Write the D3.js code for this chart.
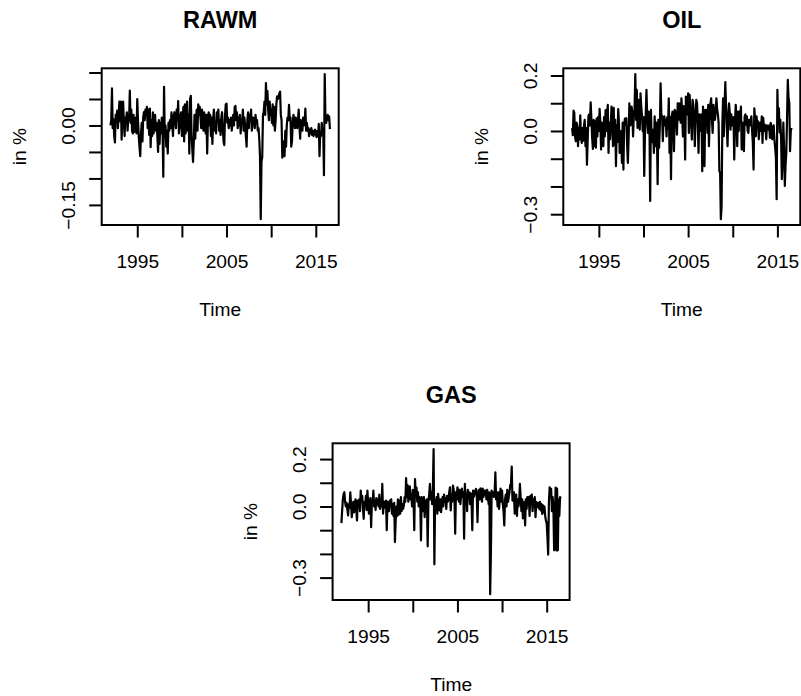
<!DOCTYPE html>
<html>
<head>
<meta charset="utf-8">
<script src="https://cdn.jsdelivr.net/npm/d3@7"></script>
<style>
  body { margin: 0; background: #fff; }
  text { font-family: "Liberation Sans", Arial, Helvetica, sans-serif; fill: #000; }
</style>
</head>
<body>
<svg id="chart" width="801" height="696"></svg>
<script>
// Monthly returns, January 1992 to August 2016 (one row per year).
const startYear = 1992;

const rawm = [
  0.000, 0.010, 0.070, -0.005, 0.012, -0.020, -0.032, 0.020, 0.010, 0.028, -0.005, 0.020,
  0.045, 0.008, 0.045, -0.027, 0.030, 0.045, 0.005, -0.020, 0.015, 0.010, 0.025, -0.010,
  0.020, 0.010, 0.066, 0.005, 0.030, -0.010, -0.015, 0.020, -0.012, 0.005, 0.015, -0.015,
  0.050, 0.010, -0.020, -0.040, -0.058, -0.015, 0.005, -0.030, 0.015, 0.025, 0.010, 0.030,
  0.020, 0.035, -0.005, 0.030, -0.018, 0.032, -0.041, 0.010, -0.020, 0.025, -0.015, 0.015,
  0.020, -0.010, 0.005, -0.020, -0.050, 0.010, -0.035, 0.005, -0.015, 0.015, -0.005, -0.097,
  0.073, -0.020, 0.000, -0.040, -0.010, -0.053, 0.005, -0.010, 0.010, -0.005, 0.025, 0.010,
  -0.020, 0.015, 0.025, 0.010, -0.005, 0.030, 0.010, 0.046, -0.015, 0.020, -0.005, 0.025,
  -0.020, 0.010, 0.035, -0.030, 0.040, -0.015, 0.010, 0.045, -0.010, 0.020, -0.053, 0.050,
  0.056, -0.020, -0.045, -0.069, -0.030, 0.020, -0.025, 0.015, 0.030, -0.010, 0.040, 0.020,
  0.035, 0.015, -0.005, 0.030, 0.010, -0.010, 0.025, 0.005, -0.015, 0.020, -0.053, 0.010,
  0.025, 0.000, 0.020, -0.020, 0.015, -0.035, 0.010, 0.030, -0.010, 0.005, -0.015, 0.025,
  0.020, 0.030, -0.010, 0.010, -0.018, 0.015, 0.025, -0.005, -0.030, -0.037, 0.020, 0.040,
  0.041, 0.005, 0.015, -0.005, 0.010, 0.000, 0.015, -0.010, 0.005, 0.020, 0.000, 0.035,
  0.037, 0.010, 0.025, -0.005, 0.015, 0.000, 0.020, -0.015, 0.010, 0.005, 0.030, -0.010,
  0.015, 0.000, -0.020, -0.040, 0.010, 0.025, -0.005, 0.020, 0.010, 0.030, -0.010, 0.005,
  0.015, 0.010, -0.005, 0.020, 0.005, 0.010, -0.010, -0.005, -0.025, -0.058, -0.177, -0.068,
  -0.060, 0.020, 0.025, 0.045, 0.020, 0.080, 0.040, 0.065, 0.030, 0.010, 0.045, 0.020,
  0.030, 0.005, 0.040, 0.000, 0.035, -0.010, 0.010, 0.040, 0.055, 0.050, 0.055, 0.060,
  0.064, 0.020, 0.010, -0.061, -0.030, -0.045, -0.058, -0.010, -0.040, 0.000, 0.015, 0.010,
  0.039, 0.010, 0.015, -0.040, -0.030, 0.005, 0.020, 0.010, -0.005, 0.015, 0.005, -0.005,
  0.010, 0.030, 0.000, -0.025, 0.010, 0.005, -0.010, 0.015, 0.000, 0.005, 0.032, -0.010,
  0.005, -0.010, -0.005, -0.020, -0.008, -0.015, -0.005, -0.018, -0.010, -0.020, -0.012, -0.008,
  -0.015, -0.022, -0.010, -0.020, 0.003, -0.058, -0.012, -0.020, 0.005, -0.015, -0.010, -0.094,
  0.097, 0.010, 0.005, 0.015, 0.020, 0.010, 0.017, -0.007
];

const oil = [
  0.010, -0.015, 0.073, 0.065, -0.020, -0.037, 0.030, 0.020, -0.055, 0.010, -0.030, 0.056,
  -0.020, -0.043, 0.010, -0.035, 0.020, 0.040, -0.055, 0.010, -0.122, -0.030, 0.055, 0.060,
  0.020, 0.103, 0.040, -0.025, -0.065, 0.040, -0.055, 0.035, -0.060, 0.045, -0.020, 0.050,
  0.000, 0.080, 0.030, -0.067, 0.030, 0.000, -0.055, 0.050, -0.020, 0.075, 0.000, 0.060,
  0.094, -0.079, 0.030, -0.030, 0.020, 0.088, 0.030, -0.055, 0.083, -0.050, 0.040, -0.127,
  0.020, -0.040, 0.079, 0.030, -0.079, 0.000, -0.020, -0.115, 0.030, -0.139, 0.015, 0.045,
  0.040, 0.046, -0.050, -0.115, -0.030, 0.100, 0.020, 0.023, 0.088, 0.065, -0.020, 0.060,
  0.080, 0.205, 0.040, 0.148, 0.011, 0.112, 0.076, 0.005, 0.136, 0.088, 0.052, -0.001,
  0.050, -0.162, -0.007, 0.060, 0.148, 0.052, -0.007, 0.070, 0.020, -0.252, 0.076, -0.040,
  0.005, -0.007, -0.079, 0.053, -0.055, 0.030, 0.010, -0.192, 0.040, -0.060, 0.020, 0.172,
  0.060, 0.053, -0.037, 0.047, 0.053, 0.020, 0.041, -0.020, 0.050, 0.010, 0.118, -0.079,
  0.050, -0.174, 0.053, 0.070, 0.023, -0.073, 0.076, 0.070, 0.053, -0.013, 0.100, 0.040,
  0.100, 0.088, 0.030, 0.118, 0.060, -0.020, 0.090, 0.040, -0.103, 0.124, 0.112, 0.060,
  0.136, -0.007, 0.130, 0.076, 0.030, -0.031, 0.112, 0.094, 0.050, -0.055, 0.040, 0.112,
  0.100, 0.029, -0.079, 0.060, 0.030, 0.000, 0.060, -0.145, 0.088, 0.000, -0.127, 0.076,
  0.070, 0.076, -0.007, 0.094, -0.055, 0.050, 0.100, 0.118, 0.040, -0.007, 0.094, 0.060,
  0.040, 0.070, 0.118, 0.080, 0.060, 0.030, -0.145, -0.150, -0.318, -0.270, 0.023, 0.118,
  -0.019, 0.090, 0.176, 0.088, 0.017, -0.055, 0.053, 0.100, 0.065, 0.005, 0.060, 0.020,
  0.030, 0.050, -0.103, 0.023, 0.094, 0.053, -0.055, 0.070, 0.000, 0.070, 0.040, 0.088,
  -0.067, 0.030, -0.007, -0.073, 0.053, 0.060, 0.023, 0.053, 0.000, -0.007, 0.040, 0.020,
  0.040, 0.053, 0.000, -0.043, -0.139, 0.082, 0.040, -0.019, 0.053, 0.020, 0.035, -0.030,
  0.010, 0.030, 0.000, 0.053, -0.043, 0.047, 0.000, 0.023, 0.017, -0.030, 0.020, 0.010,
  0.005, 0.020, -0.025, 0.029, 0.017, -0.030, 0.010, 0.020, -0.031, -0.060, -0.095, -0.246,
  0.148, 0.030, 0.082, -0.005, 0.040, -0.030, -0.174, -0.100, 0.030, -0.060, -0.198, -0.120,
  -0.080, 0.050, 0.184, 0.118, 0.100, -0.073, 0.000, 0.011
];

const gas = [
  -0.070, -0.020, 0.030, 0.053, 0.060, 0.020, 0.000, 0.015, -0.010, -0.038, 0.010, -0.005,
  0.060, 0.010, -0.045, 0.000, 0.020, -0.025, 0.010, 0.030, -0.010, -0.059, 0.025, 0.015,
  0.030, -0.020, 0.067, 0.025, 0.045, -0.010, -0.052, 0.020, 0.010, 0.045, -0.015, 0.067,
  0.020, -0.030, 0.010, 0.035, -0.087, 0.015, 0.020, 0.067, 0.000, 0.025, -0.015, 0.035,
  0.010, 0.030, 0.000, 0.050, -0.010, 0.020, 0.000, 0.095, -0.030, 0.010, 0.020, -0.005,
  0.025, -0.100, 0.020, 0.010, -0.020, 0.025, 0.000, 0.030, -0.030, 0.010, -0.040, 0.015,
  -0.150, -0.060, 0.000, -0.040, 0.030, -0.035, 0.025, -0.030, 0.040, -0.020, 0.010, -0.010,
  0.005, 0.040, 0.020, 0.120, 0.040, 0.090, 0.020, 0.060, 0.085, 0.030, 0.050, 0.000,
  0.070, 0.030, -0.100, 0.116, 0.050, 0.080, 0.020, 0.060, 0.000, 0.040, 0.020, -0.143,
  0.040, 0.020, -0.020, 0.040, -0.045, 0.025, 0.000, 0.030, -0.168, 0.020, 0.050, 0.095,
  0.030, 0.060, 0.010, 0.080, 0.242, -0.244, 0.025, 0.010, 0.040, -0.030, 0.053, 0.020,
  -0.017, 0.030, -0.024, 0.010, 0.040, 0.000, 0.050, 0.020, 0.035, -0.010, 0.045, 0.020,
  0.030, 0.060, 0.081, -0.017, 0.050, 0.020, 0.088, 0.070, 0.040, -0.115, 0.060, 0.030,
  0.081, 0.067, 0.020, 0.070, 0.010, 0.050, 0.075, 0.040, 0.060, -0.136, 0.095, 0.030,
  0.053, -0.020, 0.070, 0.040, 0.060, 0.010, 0.055, 0.020, -0.100, 0.067, 0.040, 0.053,
  0.067, 0.074, 0.045, -0.066, 0.060, 0.070, 0.030, 0.076, 0.050, 0.020, 0.075, 0.040,
  0.067, 0.050, 0.067, 0.030, 0.070, 0.040, 0.010, 0.060, -0.370, -0.200, 0.067, 0.060,
  0.060, 0.040, 0.055, 0.144, 0.030, 0.060, 0.000, 0.060, -0.010, 0.040, 0.075, 0.020,
  0.067, 0.010, -0.020, -0.080, 0.030, 0.050, 0.000, 0.070, 0.020, 0.040, 0.060, 0.090,
  0.095, 0.168, 0.025, 0.040, 0.060, -0.030, 0.020, 0.050, -0.040, 0.030, 0.000, 0.020,
  0.095, 0.040, -0.020, 0.030, -0.050, 0.020, 0.000, -0.080, 0.030, -0.010, 0.040, 0.010,
  0.040, -0.040, 0.045, 0.010, 0.050, -0.020, 0.030, 0.000, 0.040, -0.045, 0.020, 0.010,
  -0.003, 0.015, -0.010, 0.020, -0.017, 0.010, -0.031, 0.005, -0.025, 0.000, -0.040, -0.060,
  -0.070, -0.130, -0.203, 0.020, 0.081, 0.060, 0.074, -0.020, 0.040, 0.000, -0.185, -0.050,
  0.080, -0.185, 0.075, -0.185, 0.030, -0.040, 0.040, 0.035
];

// Axis ticks and the subset of ticks that carry a label
const xTicks = [1995, 2000, 2005, 2010, 2015];
const xTickLabels = [1995, 2005, 2015];
const rawmTicks = [-0.15, -0.10, -0.05, 0.00, 0.05, 0.10];
const rawmTickLabels = [0.00, -0.15];
const oilTicks = [-0.3, -0.2, -0.1, 0.0, 0.1, 0.2];
const oilTickLabels = [0.2, 0.0, -0.3];
const gasTicks = [-0.3, -0.2, -0.1, 0.0, 0.1, 0.2];
const gasTickLabels = [0.2, 0.0, -0.3];

const panels = [
  { title: "RAWM", values: rawm, ticks: rawmTicks, labels: rawmTickLabels, fmt: ".2f", left: 101.7, top: 68.3 },
  { title: "OIL",  values: oil,  ticks: oilTicks,  labels: oilTickLabels,  fmt: ".1f", left: 563.3, top: 68.3 },
  { title: "GAS",  values: gas,  ticks: gasTicks,  labels: gasTickLabels,  fmt: ".1f", left: 332.6, top: 443.3 }
];

const plotW = 237, plotH = 156.7;
const tickLen = 12.5;
const lineW = 2.2, frameW = 2;
const axisFont = 19.2, titleFont = 23.5;

const svg = d3.select("#chart");

// pad a range by 4% on each side
function padded([a, b]) {
  const r = b - a;
  return [a - 0.04 * r, b + 0.04 * r];
}

panels.forEach(p => {
  const series = p.values.map((v, i) => ({ t: startYear + i / 12, v }));
  const x = d3.scaleLinear().domain(padded(d3.extent(series, d => d.t))).range([0, plotW]);
  const y = d3.scaleLinear().domain(padded(d3.extent(series, d => d.v))).range([plotH, 0]);

  const g = svg.append("g").attr("transform", `translate(${p.left},${p.top})`);

  // series line
  g.append("path")
    .datum(series)
    .attr("fill", "none")
    .attr("stroke", "#000")
    .attr("stroke-width", lineW)
    .attr("stroke-linejoin", "round")
    .attr("d", d3.line().x(d => x(d.t)).y(d => y(d.v)));

  // frame
  g.append("rect")
    .attr("x", 0).attr("y", 0).attr("width", plotW).attr("height", plotH)
    .attr("fill", "none").attr("stroke", "#000").attr("stroke-width", frameW);

  // bottom axis
  const xa = g.append("g").attr("transform", `translate(0,${plotH})`)
    .call(d3.axisBottom(x).tickValues(xTicks).tickSize(tickLen)
      .tickFormat(d => xTickLabels.includes(d) ? String(d) : ""));
  xa.select(".domain").remove();
  xa.selectAll(".tick line").attr("stroke", "#000").attr("stroke-width", frameW);
  xa.selectAll(".tick text")
    .attr("y", 43).attr("dy", null)
    .attr("font-size", axisFont).attr("fill", "#000")
    .style("font-family", '"Liberation Sans", Arial, Helvetica, sans-serif');

  // left axis, labels parallel to the axis
  const fmt = d3.format(p.fmt);
  const ya = g.append("g")
    .call(d3.axisLeft(y).tickValues(p.ticks).tickSize(tickLen)
      .tickFormat(d => p.labels.some(l => Math.abs(l - d) < 1e-9) ? fmt(d) : ""));
  ya.select(".domain").remove();
  ya.selectAll(".tick line").attr("stroke", "#000").attr("stroke-width", frameW);
  ya.selectAll(".tick text")
    .attr("transform", "rotate(-90)")
    .attr("x", 0).attr("y", -26.7).attr("dy", null)
    .attr("text-anchor", "middle")
    .attr("font-size", axisFont).attr("fill", "#000")
    .style("font-family", '"Liberation Sans", Arial, Helvetica, sans-serif');

  // titles
  g.append("text")
    .attr("x", plotW / 2).attr("y", -40)
    .attr("text-anchor", "middle")
    .attr("font-size", titleFont).attr("font-weight", "bold")
    .text(p.title);

  g.append("text")
    .attr("x", plotW / 2).attr("y", plotH + 91)
    .attr("text-anchor", "middle")
    .attr("font-size", axisFont)
    .text("Time");

  g.append("text")
    .attr("transform", `translate(${-75.7},${plotH / 2}) rotate(-90)`)
    .attr("text-anchor", "middle")
    .attr("font-size", axisFont)
    .text("in %");
});
</script>
</body>
</html>
